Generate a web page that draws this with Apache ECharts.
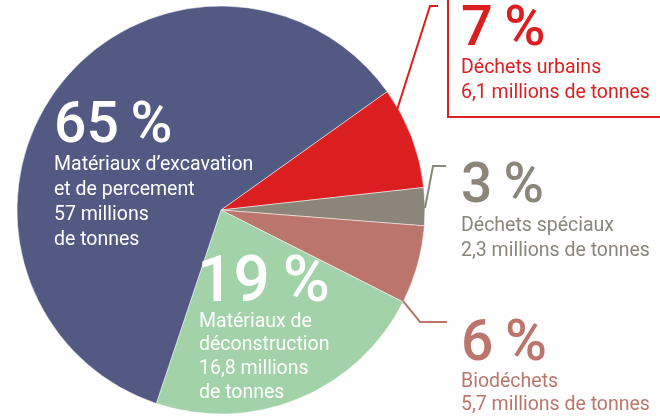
<!DOCTYPE html>
<html lang="fr">
<head>
<meta charset="utf-8">
<title>Déchets</title>
<script src="https://cdn.jsdelivr.net/npm/echarts@6/dist/echarts.min.js"></script>
<style>
  html, body { margin: 0; padding: 0; background: #fff; }
  #main { width: 660px; height: 418px; }
</style>
</head>
<body>
<div id="main"></div>
<script type="text/javascript">
    // données (ordre horaire à partir de la tranche rouge)
    var categories = ['Déchets urbains', 'Déchets spéciaux', 'Biodéchets', 'Matériaux de déconstruction', 'Matériaux d\u2019excavation et de percement'];
    var percents = [7, 3, 6, 19, 65];
    var tonnes = ['6,1', '2,3', '5,7', '16,8', '57'];
    // part de chaque tranche telle que dessinée sur l'image
    var sliceShare = [8.1, 3.0, 6.2, 22.7, 60.0];
    var colors = ['#db1e1f', '#8b857a', '#bb756c', '#a2d2a7', '#525a84'];

    // lignes de texte de chaque étiquette
    var labelLines = [
        ['Déchets urbains', '6,1 millions de tonnes'],
        ['Déchets spéciaux', '2,3 millions de tonnes'],
        ['Biodéchets', '5,7 millions de tonnes'],
        ['Matériaux de', 'déconstruction', '16,8 millions', 'de tonnes'],
        ['Matériaux d\u2019excavation', 'et de percement', '57 millions', 'de tonnes']
    ];

    var FONT = 'Roboto, "Noto Sans", sans-serif';
    var SMALL = 19.5;

    // position des étiquettes : x, ligne de base du pourcentage, taille, lignes
    var layout = [
        {x: 461, y: 48, big: 56, first: 75, step: 25, color: colors[0]},
        {x: 461, y: 205, big: 55, first: 233, step: 25, color: colors[1]},
        {x: 461, y: 363, big: 57, first: 389, step: 23, color: colors[2]},
        {x: 197, y: 304, big: 64, first: 329, step: 23.6, color: '#fff'},
        {x: 54, y: 145, big: 57, first: 172, step: 25, color: '#fff'}
    ];

    var graphics = [];
    layout.forEach(function (p, i) {
        graphics.push({
            type: 'text', z: 10,
            style: {
                text: percents[i] + '\u2009%', x: p.x, y: p.y - p.big * 0.30,
                fill: p.color, font: '500 ' + p.big + 'px ' + FONT,
                verticalAlign: 'middle'
            }
        });
        labelLines[i].forEach(function (t, k) {
            graphics.push({
                type: 'text', z: 10,
                style: {
                    text: t, x: p.x === 197 ? 199 : p.x, y: p.first + k * p.step - SMALL * 0.36,
                    fill: p.color, font: SMALL + 'px ' + FONT,
                    verticalAlign: 'middle'
                }
            });
        });
    });

    // traits de rappel
    var leaders = [
        {pts: [[397, 110], [430, 6], [438, 6]], color: colors[0]},
        {pts: [[448, -2], [448, 117], [662, 117]], color: colors[0]},
        {pts: [[425, 208], [433, 166], [446, 166]], color: colors[1]},
        {pts: [[403, 301], [420, 322], [447, 322]], color: colors[2]}
    ];
    leaders.forEach(function (l) {
        graphics.push({
            type: 'polyline', z: 5,
            shape: {points: l.pts},
            style: {stroke: l.color, lineWidth: 2, fill: null}
        });
    });

    var myChart = echarts.init(document.getElementById('main'));
    var option = {
        animation: false,
        series: [{
            type: 'pie',
            center: [221, 210],
            radius: [0, 204],
            startAngle: 35.5,
            clockwise: true,
            label: {show: false},
            labelLine: {show: false},
            emphasis: {disabled: true},
            itemStyle: {borderColor: '#fff', borderWidth: 0.5},
            data: categories.map(function (c, i) {
                return {name: c, value: sliceShare[i], itemStyle: {color: colors[i]}};
            })
        }],
        graphic: graphics
    };
    myChart.setOption(option);
</script>
</body>
</html>
